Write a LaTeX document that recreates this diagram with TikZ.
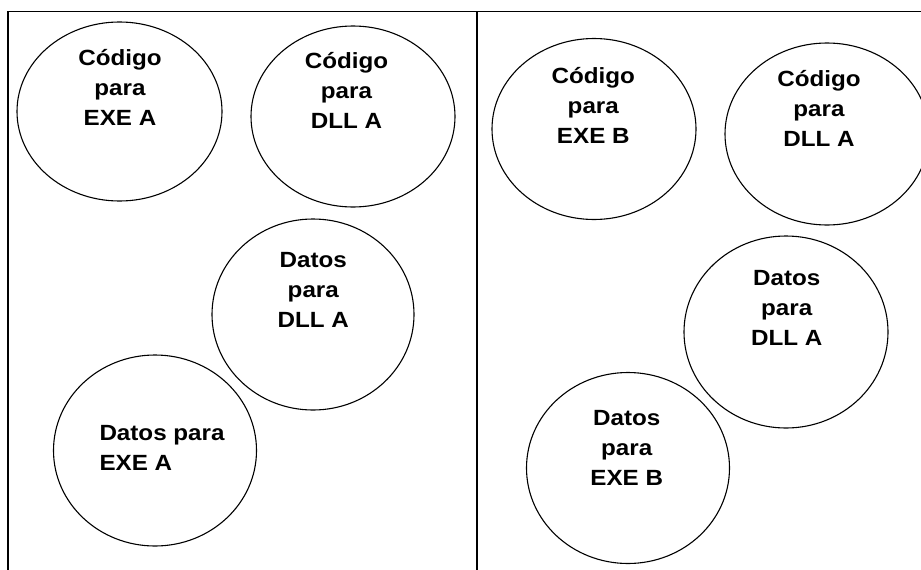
\documentclass[tikz,border=0pt]{standalone}
\usepackage{fontspec}
\setmainfont{Liberation Sans}[FakeStretch=1.1]
\usetikzlibrary{shapes.geometric, positioning, calc}

\begin{document}
\begin{tikzpicture}[x=1pt, y=-1pt,
        zona/.style 2 args={draw, ellipse, line width=1.1pt, inner sep=0pt, minimum width=#1, minimum height=#2},
        rotulo/.style={align=center, inner sep=0pt, font=\fontsize{22}{30}\selectfont\bfseries},
        marco/.style={line width=1.1pt}]
    \useasboundingbox (0,0) rectangle (921,570);
    \clip (0,0) rectangle (921,570);

    \coordinate (supIzq) at (8,11.5);
    \coordinate (supMed) at (477,11.5);
    \coordinate (supDer) at (921,11.5);
    \draw[marco] (8,570) -- (supIzq) -- (supDer);
    \draw[marco] (supMed) -- (477,570);

    \node[zona={205}{179}] (codExeA) at (119.5,111.5) {};
    \node[zona={204}{181}] (codDllA) at (353,116.5) {};
    \node[zona={202}{191}] (datDllA) at (313,314.5) {};
    \node[zona={203}{191}] (datExeA) at (155,450.5) {};
    \node[rotulo] (tCodExeA) at (120,87) {Código\\para\\EXE A};
    \node[rotulo] (tCodDllA) at (346.5,90) {Código\\para\\DLL A};
    \node[rotulo] (tDatDllA) at (313.3,290) {Datos\\para\\DLL A};
    \node[rotulo, align=left, anchor=west] (tDatExeA) at (99.3,447.5) {Datos para\\EXE A};

    \node[zona={204}{181}] (codExeB) at (594,129) {};
    \node[zona={204}{182}] (codDllB) at (827,134) {};
    \node[zona={204}{192}] (datDllB) at (786,332) {};
    \node[zona={203}{191}] (datExeB) at (628,468) {};
    \node[rotulo] (tCodExeB) at (593.3,105) {Código\\para\\EXE B};
    \node[rotulo] (tCodDllB) at (819,108.4) {Código\\para\\DLL A};
    \node[rotulo] (tDatDllB) at (786.7,308.3) {Datos\\para\\DLL A};
    \node[rotulo] (tDatExeB) at (626.7,448) {Datos\\para\\EXE B};
\end{tikzpicture}
\end{document}
